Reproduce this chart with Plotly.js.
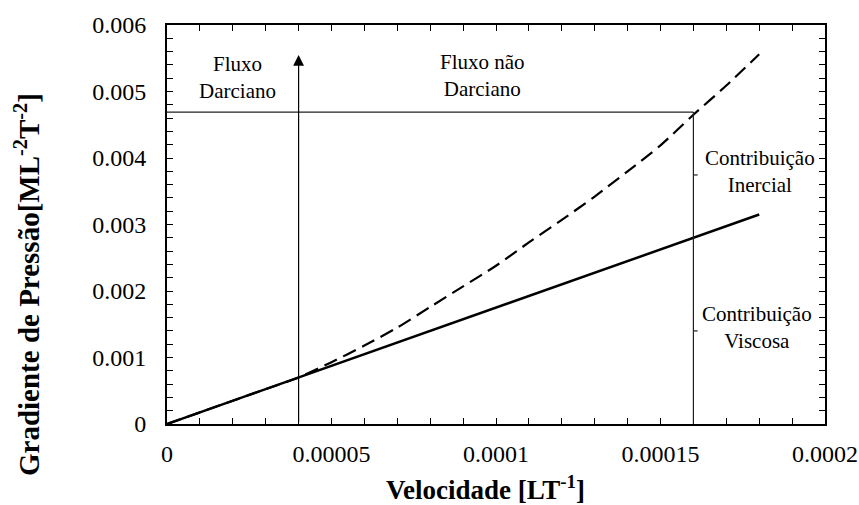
<!DOCTYPE html>
<html><head><meta charset="utf-8">
<script src="https://cdn.plot.ly/plotly-3.0.1.min.js"></script>
<style>html,body{margin:0;padding:0;background:#fff}</style>
</head><body>
<div id="chart" style="width:859px;height:505px"></div>
<script>
// Data
const velViscosa = [0, 0.00018];
const gradViscosa = [0, 0.00315];
const velTotal = [0, 0.00001, 0.00002, 0.00003, 0.00004, 0.00005, 0.00006, 0.00007, 0.00008, 0.00009, 0.0001, 0.00011, 0.00012, 0.00013, 0.00014, 0.00015, 0.00016, 0.00017, 0.00018];
const gradTotal = [0, 0.000175, 0.00035, 0.000525, 0.0007, 0.00093, 0.00118, 0.00145, 0.00176, 0.00207, 0.00238, 0.00273, 0.00307, 0.00342, 0.0038, 0.00419, 0.00465, 0.00509, 0.00556];
// tick positions (every small tick) and labels (blank where unlabeled)
const xTickVals = [0, 0.00001, 0.00002, 0.00003, 0.00004, 0.00005, 0.00006, 0.00007, 0.00008, 0.00009, 0.0001, 0.00011, 0.00012, 0.00013, 0.00014, 0.00015, 0.00016, 0.00017, 0.00018, 0.00019, 0.0002];
const xTickText = ['0', '', '', '', '', '0.00005', '', '', '', '', '0.0001', '', '', '', '', '0.00015', '', '', '', '', '0.0002'];
const yTickVals = [0, 0.0002, 0.0004, 0.0006, 0.0008, 0.001, 0.0012, 0.0014, 0.0016, 0.0018, 0.002, 0.0022, 0.0024, 0.0026, 0.0028, 0.003, 0.0032, 0.0034, 0.0036, 0.0038, 0.004, 0.0042, 0.0044, 0.0046, 0.0048, 0.005, 0.0052, 0.0054, 0.0056, 0.0058, 0.006];
const yTickText = ['0', '', '', '', '', '0.001', '', '', '', '', '0.002', '', '', '', '', '0.003', '', '', '', '', '0.004', '', '', '', '', '0.005', '', '', '', '', '0.006'];
const vLimite = 0.00004;      // Darcy limit
const vRef = 0.00016;         // reference velocity
const gradRef = 0.00469;      // total gradient at vRef
const gradRefVisc = 0.0028;   // viscous gradient at vRef
const arrowTop = 0.00555;

const serif = 'Liberation Serif';
const traces = [
  {x: velViscosa, y: gradViscosa, mode: 'lines', line: {color: '#000', width: 2.5}, hoverinfo: 'skip'},
  {x: velTotal, y: gradTotal, mode: 'lines', line: {color: '#000', width: 2.2, dash: '14px,7px', shape: 'spline', smoothing: 0.8}, hoverinfo: 'skip'}
];
const thin = {color: '#222', width: 1.2};
const tk = 0.0000013;
const layout = {
  width: 859, height: 505,
  margin: {l: 167, r: 34, t: 25, b: 81},
  paper_bgcolor: '#fff', plot_bgcolor: '#fff',
  showlegend: false,
  font: {family: serif, color: '#000', size: 22},
  xaxis: {range: [0, 0.0002], tickmode: 'array', tickvals: xTickVals, ticktext: xTickText,
    ticks: 'inside', ticklen: 6, tickwidth: 1.4, tickcolor: '#000',
    showline: true, linewidth: 2, linecolor: '#000', mirror: 'allticks', showgrid: false, zeroline: false,
    tickfont: {family: serif, size: 24, color: '#000'}, ticklabelstandoff: 7},
  yaxis: {range: [0, 0.006], tickmode: 'array', tickvals: yTickVals, ticktext: yTickText,
    ticks: 'inside', ticklen: 6, tickwidth: 1.4, tickcolor: '#000',
    showline: true, linewidth: 2, linecolor: '#000', mirror: 'allticks', showgrid: false, zeroline: false,
    tickfont: {family: serif, size: 24, color: '#000'}, ticklabelstandoff: 14},
  shapes: [
    {type: 'line', xref: 'x', yref: 'y', x0: 0, x1: vRef, y0: gradRef, y1: gradRef, line: thin},
    {type: 'line', xref: 'x', yref: 'y', x0: vRef, x1: vRef, y0: 0, y1: gradRef, line: thin},
    {type: 'line', xref: 'x', yref: 'y', x0: vRef, x1: vRef + tk, y0: (gradRef + gradRefVisc) / 2, y1: (gradRef + gradRefVisc) / 2, line: thin},
    {type: 'line', xref: 'x', yref: 'y', x0: vRef, x1: vRef + tk, y0: gradRefVisc / 2, y1: gradRefVisc / 2, line: thin}
  ],
  annotations: [
    {xref: 'x', yref: 'y', axref: 'x', ayref: 'y', x: vLimite, y: arrowTop, ax: vLimite, ay: 0, text: '', showarrow: true,
      arrowhead: 2, arrowsize: 1.8, arrowwidth: 1.2, arrowcolor: '#000'},
    {textangle: -90, text: '<b>Gradiente de Pressão[ML<sup>-2</sup>T<sup>-2</sup>]</b>', showarrow: false, font: {family: serif, size: 29, color: '#000'}},
    {text: '<b>Velocidade [LT<sup>-1</sup>]</b>', showarrow: false, font: {family: serif, size: 27, color: '#000'}},
    {text: 'Fluxo<br>Darciano', showarrow: false, font: {family: serif, size: 21, color: '#000'}},
    {text: 'Fluxo não<br>Darciano', showarrow: false, font: {family: serif, size: 21, color: '#000'}},
    {text: 'Contribuição<br>Inercial', showarrow: false, font: {family: serif, size: 21, color: '#000'}},
    {text: 'Contribuição<br>Viscosa', showarrow: false, font: {family: serif, size: 21, color: '#000'}}
  ]
};
const W = 859 - 167 - 34, H = 505 - 25 - 81;
function px(xp) { return (xp - 167) / W; }
function py(yp) { return (505 - 81 - yp) / H; }
const pos = [[27, 285], [485, 488], [237, 77], [482, 75], [760, 171], [757, 327]];
for (let i = 1; i < layout.annotations.length; i++) {
  const a = layout.annotations[i];
  a.xref = 'paper'; a.yref = 'paper';
  a.x = px(pos[i - 1][0]); a.y = py(pos[i - 1][1]);
  a.xanchor = 'center'; a.yanchor = 'middle';
}
Plotly.newPlot('chart', traces, layout, {displayModeBar: false});
</script>
</body></html>
